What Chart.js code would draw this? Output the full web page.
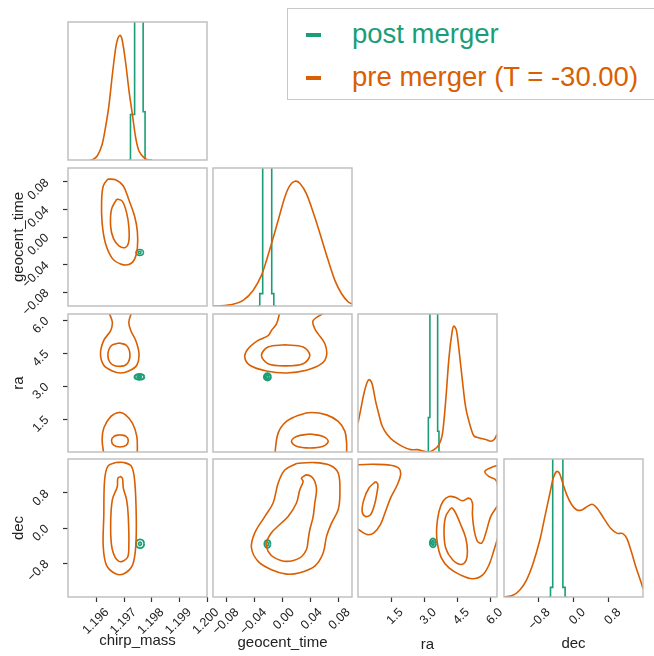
<!DOCTYPE html>
<html>
<head>
<meta charset="utf-8">
<script src="https://cdn.jsdelivr.net/npm/chart.js@4/dist/chart.umd.min.js"></script>
<style>
html, body { margin: 0; padding: 0; background: #ffffff; }
#wrap { position: relative; width: 654px; height: 656px; overflow: hidden; background: #fff; font-family: "Liberation Sans", Arial, Helvetica, sans-serif; }
#wrap canvas { position: absolute; left: 0; top: 0; }
#legend { position: absolute; left: 287px; top: 8px; width: 380px; height: 92px; border: 1px solid #c8c8c8; box-sizing: border-box; background: #fff; }
.lrow { position: absolute; left: 0; height: 30px; line-height: 30px; font-size: 27.5px; white-space: nowrap; }
.dash { position: absolute; left: 18px; width: 15px; height: 4px; }
.ltxt { position: absolute; left: 64px; top: 0; }
</style>
</head>
<body>
<div id="wrap">
  <div id="legend">
    <div class="lrow" style="top:10px"><span class="dash" style="top:14px;background:#1b9e77"></span><span class="ltxt" style="color:#1b9e77">post merger</span></div>
    <div class="lrow" style="top:53px"><span class="dash" style="top:14px;background:#d95f02"></span><span class="ltxt" style="color:#d95f02">pre merger (T = -30.00)</span></div>
  </div>
</div>
<script>
// ---------------- data ----------------
const paramNames = ['chirp_mass', 'geocent_time', 'ra', 'dec'];

const chirpRange = [1.19495, 1.2000];
const geoRange = [-0.1, 0.1];
const raRange = [0, 6.283];
const decRange = [-1.571, 1.571];

const chirpTicks = [1.196, 1.197, 1.198, 1.199, 1.200];
const chirpTickLabels = ['1.196', '1.197', '1.198', '1.199', '1.200'];
const geoTicks = [-0.08, -0.04, 0.0, 0.04, 0.08];
const geoTickLabels = ['\u22120.08', '\u22120.04', '0.00', '0.04', '0.08'];
const raTicks = [1.5, 3.0, 4.5, 6.0];
const raTickLabels = ['1.5', '3.0', '4.5', '6.0'];
const decTicks = [-0.8, 0.0, 0.8];
const decTickLabels = ['\u22120.8', '0.0', '0.8'];

// 1D marginals (height relative to panel height)
const preChirpHist = [[1.19575,0],[1.19583,0],[1.19601,0.029],[1.19619,0.113],[1.19631,0.233],[1.19644,0.400],[1.19656,0.616],[1.19668,0.808],[1.19676,0.880],[1.19684,0.904],[1.19692,0.868],[1.19704,0.712],[1.19717,0.496],[1.19729,0.329],[1.19741,0.161],[1.19753,0.065],[1.19771,0.017],[1.19786,0],[1.19800,0]];
const postChirpHist = [[1.19715,0],[1.19722,0.33],[1.19737,5],[1.19768,0.35],[1.19775,0],[1.19790,0]];
const preGeoHist = [[-0.1,0],[-0.0903,0],[-0.0711,0.012],[-0.0567,0.041],[-0.0423,0.113],[-0.0303,0.222],[-0.0231,0.330],[-0.0159,0.451],[-0.0063,0.619],[0.0033,0.788],[0.0105,0.872],[0.0177,0.904],[0.0249,0.889],[0.0345,0.812],[0.0465,0.643],[0.0562,0.487],[0.0658,0.330],[0.0754,0.186],[0.0850,0.089],[0.0946,0.029],[0.1,0.015]];
const postGeoHist = [[-0.036,0],[-0.0327,0.09],[-0.0285,5],[-0.0155,0.09],[-0.0125,0],[-0.009,0]];
const preRaHist = [[0.0,0.21],[0.112,0.298],[0.263,0.420],[0.414,0.505],[0.520,0.524],[0.640,0.493],[0.792,0.371],[0.943,0.273],[1.093,0.188],[1.320,0.127],[1.622,0.078],[2.000,0.041],[2.378,0.017],[2.680,0.017],[2.982,0.005],[3.209,0],[3.435,0.017],[3.662,0.054],[3.813,0.127],[3.964,0.371],[4.115,0.688],[4.266,0.883],[4.342,0.912],[4.447,0.883],[4.568,0.737],[4.719,0.517],[4.870,0.322],[5.097,0.176],[5.248,0.115],[5.475,0.102],[5.777,0.090],[6.003,0.078],[6.154,0.090],[6.283,0.127]];
const postRaHist = [[3.10,0],[3.18,0.25],[3.25,5],[3.60,0.15],[3.66,0],[3.74,0]];
const preDecHist = [[-1.571,0],[-1.561,0],[-1.371,0.012],[-1.218,0.049],[-1.066,0.121],[-0.914,0.243],[-0.761,0.413],[-0.647,0.583],[-0.533,0.752],[-0.457,0.862],[-0.380,0.910],[-0.319,0.898],[-0.243,0.825],[-0.152,0.740],[-0.037,0.667],[0.077,0.631],[0.191,0.631],[0.306,0.655],[0.420,0.672],[0.534,0.643],[0.686,0.570],[0.839,0.498],[0.991,0.461],[1.106,0.461],[1.205,0.425],[1.296,0.340],[1.410,0.218],[1.525,0.109],[1.571,0.06]];
const postDecHist = [[-0.56,0],[-0.52,0.07],[-0.47,5],[-0.24,0.07],[-0.19,0],[-0.15,0]];

// 2D contours: chirp_mass vs geocent_time
const preChirpGeo95 = [[1.19640,0.084],[1.19623,0.074],[1.19617,0.050],[1.19619,0.020],[1.19631,-0.009],[1.19656,-0.031],[1.19686,-0.039],[1.19716,-0.040],[1.19737,-0.032],[1.19747,-0.016],[1.19747,0.008],[1.19737,0.030],[1.19716,0.054],[1.19696,0.074],[1.19668,0.083]];
const preChirpGeo68 = [[1.19672,0.055],[1.19653,0.040],[1.19650,0.015],[1.19660,-0.002],[1.19680,-0.013],[1.19704,-0.015],[1.19716,-0.006],[1.19716,0.015],[1.19708,0.035],[1.19692,0.052]];
const postChirpGeo95 = [[1.19770,-0.0224],[1.19766,-0.0194],[1.19756,-0.0182],[1.19746,-0.0194],[1.19742,-0.0224],[1.19746,-0.0254],[1.19756,-0.0266],[1.19766,-0.0254]];
const postChirpGeo68 = [[1.19762,-0.0224],[1.19756,-0.0206],[1.19750,-0.0224],[1.19756,-0.0242]];

// chirp_mass vs ra
const preChirpRa95a = [[1.19644,6.35],[1.19656,5.91],[1.19650,5.53],[1.19625,5.08],[1.19613,4.48],[1.19625,3.95],[1.19656,3.69],[1.19686,3.60],[1.19716,3.69],[1.19745,3.95],[1.19753,4.48],[1.19741,5.08],[1.19723,5.53],[1.19716,5.91],[1.19726,6.35]];
const preChirpRa68a = [[1.19680,4.96],[1.19653,4.85],[1.19640,4.43],[1.19652,4.02],[1.19684,3.90],[1.19710,4.02],[1.19720,4.43],[1.19708,4.85]];
const preChirpRa95b = [[1.19625,-0.1],[1.19619,0.56],[1.19625,1.09],[1.19650,1.61],[1.19680,1.80],[1.19704,1.69],[1.19729,1.31],[1.19745,0.71],[1.19747,-0.1]];
const preChirpRa68b = [[1.19684,0.79],[1.19662,0.71],[1.19653,0.52],[1.19662,0.30],[1.19684,0.23],[1.19706,0.30],[1.19714,0.52],[1.19706,0.71]];
const postChirpRa95 = [[1.19773,3.42],[1.19768,3.51],[1.19755,3.55],[1.19742,3.51],[1.19737,3.42],[1.19742,3.33],[1.19755,3.29],[1.19768,3.33]];
const postChirpRa68 = [[1.19763,3.42],[1.19755,3.48],[1.19747,3.42],[1.19755,3.36]];

// chirp_mass vs dec
const preChirpDec95 = [[1.19668,1.49],[1.19640,1.41],[1.19628,1.09],[1.19625,0.26],[1.19623,-0.42],[1.19635,-0.85],[1.19668,-1.04],[1.19698,-1.04],[1.19729,-0.85],[1.19741,-0.42],[1.19743,0.26],[1.19737,1.09],[1.19725,1.41],[1.19698,1.49]];
const preChirpDec68 = [[1.19684,1.17],[1.19676,1.13],[1.19674,0.94],[1.19656,0.64],[1.19650,0.04],[1.19656,-0.49],[1.19680,-0.76],[1.19710,-0.68],[1.19716,-0.42],[1.19714,0.26],[1.19708,0.64],[1.19696,0.91],[1.19693,1.13],[1.19686,1.17]];
const postChirpDec95 = [[1.19772,-0.36],[1.19768,-0.29],[1.19757,-0.26],[1.19746,-0.29],[1.19742,-0.36],[1.19746,-0.43],[1.19757,-0.46],[1.19768,-0.43]];
const postChirpDec68 = [[1.19763,-0.36],[1.19757,-0.32],[1.19751,-0.36],[1.19757,-0.40]];

// geocent_time vs ra
const preGeoRa95a = [[-0.0039,6.35],[-0.0087,5.83],[-0.0159,5.53],[-0.0207,5.30],[-0.0351,5.08],[-0.0495,4.70],[-0.0543,4.33],[-0.0471,3.95],[-0.0231,3.69],[0.0057,3.60],[0.0345,3.72],[0.0562,4.02],[0.0634,4.40],[0.0610,4.93],[0.0513,5.38],[0.0465,5.61],[0.0441,5.98],[0.0610,6.35]];
const preGeoRa68a = [[0.0033,4.88],[-0.0207,4.78],[-0.0303,4.40],[-0.0207,4.02],[0.0033,3.92],[0.0297,4.02],[0.0393,4.40],[0.0297,4.78]];
const preGeoRa95b = [[-0.0111,-0.1],[-0.0063,0.86],[0.0057,1.39],[0.0249,1.69],[0.0417,1.80],[0.0634,1.69],[0.0802,1.39],[0.0898,0.94],[0.0922,0.41],[0.0922,-0.1]];
const preGeoRa68b = [[0.0393,0.82],[0.0201,0.71],[0.0129,0.485],[0.0201,0.26],[0.0393,0.18],[0.0585,0.26],[0.0658,0.485],[0.0585,0.71]];
const postGeoRa95 = [[-0.0166,3.42],[-0.0181,3.53],[-0.0216,3.58],[-0.0251,3.53],[-0.0266,3.42],[-0.0251,3.31],[-0.0216,3.26],[-0.0181,3.31]];
const postGeoRa68 = [[-0.0191,3.42],[-0.0216,3.50],[-0.0241,3.42],[-0.0216,3.34]];

// geocent_time vs dec
const preGeoDec95 = [[0.0201,1.47],[0.0441,1.49],[0.0682,1.43],[0.0802,1.25],[0.0826,0.79],[0.0802,0.42],[0.0706,0.11],[0.0634,-0.19],[0.0585,-0.57],[0.0465,-0.87],[0.0249,-1.02],[0.0057,-1.05],[-0.0159,-0.95],[-0.0351,-0.76],[-0.0447,-0.45],[-0.0399,-0.11],[-0.0255,0.26],[-0.0135,0.57],[-0.0063,1.02],[0.0033,1.32]];
const preGeoDec68 = [[0.0297,1.17],[0.0345,1.21],[0.0417,1.17],[0.0465,1.06],[0.0490,0.87],[0.0465,0.57],[0.0441,0.26],[0.0393,-0.04],[0.0369,-0.27],[0.0345,-0.49],[0.0249,-0.68],[0.0057,-0.76],[-0.0111,-0.68],[-0.0207,-0.53],[-0.0231,-0.34],[-0.0159,-0.11],[-0.0039,0.08],[0.0081,0.26],[0.0201,0.57],[0.0249,0.87],[0.0297,1.06],[0.0273,1.13]];
const postGeoDec95 = [[-0.0171,-0.363],[-0.0184,-0.30],[-0.0216,-0.273],[-0.0248,-0.30],[-0.0261,-0.363],[-0.0248,-0.426],[-0.0216,-0.453],[-0.0184,-0.426]];
const postGeoDec68 = [[-0.0196,-0.363],[-0.0216,-0.32],[-0.0236,-0.363],[-0.0216,-0.406]];

// ra vs dec
const preRaDec95a = [[-0.1,1.42],[0.036,1.44],[0.716,1.45],[1.471,1.43],[1.849,1.36],[1.925,1.21],[1.773,0.98],[1.471,0.68],[1.245,0.38],[1.018,0.08],[0.716,-0.11],[0.414,-0.15],[0.036,-0.04],[-0.1,0.0]];
const preRaDec68a = [[0.792,1.057],[0.489,0.906],[0.263,0.641],[0.187,0.377],[0.338,0.264],[0.565,0.301],[0.746,0.528],[0.867,0.830],[0.897,0.996]];
const preRaDec95b = [[6.34,0.528],[6.003,0.264],[5.777,-0.114],[5.596,-0.341],[5.399,-0.303],[5.248,-0.039],[5.172,0.301],[5.172,0.566],[5.021,0.679],[4.719,0.619],[4.417,0.694],[4.115,0.717],[3.858,0.619],[3.662,0.377],[3.556,0.0],[3.586,-0.341],[3.767,-0.680],[4.115,-0.907],[4.644,-1.073],[5.172,-1.156],[5.625,-1.073],[5.928,-0.832],[6.154,-0.492],[6.336,-0.190]];
const preRaDec68b = [[4.191,0.453],[3.964,0.264],[3.888,-0.076],[3.964,-0.454],[4.266,-0.718],[4.644,-0.832],[4.870,-0.756],[4.946,-0.530],[4.870,-0.227],[4.644,0.075],[4.417,0.339],[4.266,0.453]];
const preRaDec95c = [[6.38,1.434],[6.003,1.374],[5.731,1.283],[5.928,1.170],[6.230,1.094],[6.34,0.906]];
const postRaDec95 = [[3.53,-0.34],[3.49,-0.27],[3.39,-0.24],[3.29,-0.27],[3.25,-0.34],[3.29,-0.41],[3.39,-0.44],[3.49,-0.41]];
const postRaDec68 = [[3.45,-0.34],[3.39,-0.29],[3.33,-0.34],[3.39,-0.39]];

// ---------------- layout / style ----------------
const FONT = '"Liberation Sans", Arial, Helvetica, sans-serif';
const ORANGE = '#d95f02', GREEN = '#1b9e77', FRAME = '#bcbcbc';
const W = 654, H = 656;
const COL_X = [68, 213, 358, 504];
const ROW_Y = [22, 168, 314, 459];
const PW = 139, PH = 138;
const YAXIS_W = 68, XAXIS_H = 59;

const AX = {
  chirp_mass: {range: chirpRange, ticks: chirpTicks, labels: chirpTickLabels, title: 'chirp_mass', titlePad: 6},
  geocent_time: {range: geoRange, ticks: geoTicks, labels: geoTickLabels, title: 'geocent_time', titlePad: 4},
  ra: {range: raRange, ticks: raTicks, labels: raTickLabels, title: 'ra', titlePad: 2},
  dec: {range: decRange, ticks: decTicks, labels: decTickLabels, title: 'dec', titlePad: 3}
};

function pts(arr, close) {
  const p = arr.map(a => ({x: a[0], y: a[1]}));
  if (close) p.push({x: arr[0][0], y: arr[0][1]});
  return p;
}
function curve(arr, color, close, width) {
  return {data: pts(arr, close), showLine: true, borderColor: color, backgroundColor: color,
          borderWidth: width || 1.6, pointRadius: 0, tension: 0.35, fill: false};
}
function smooth(arr, color) {
  return {data: pts(arr, false), showLine: true, borderColor: color, borderWidth: 1.6, pointRadius: 0, tension: 0.3, fill: false};
}
function steps(arr, color) {
  return {data: pts(arr, false), showLine: true, borderColor: color, borderWidth: 1.6, pointRadius: 0, stepped: 'before', fill: false};
}

function scaleCfg(ax, show, isY) {
  return {
    type: 'linear', min: ax.range[0], max: ax.range[1], display: show, bounds: 'data',
    afterBuildTicks: s => { s.ticks = ax.ticks.map(v => ({value: v})); },
    afterFit: s => {
      if (isY) s.width = show ? YAXIS_W : 0; else s.height = show ? XAXIS_H : 0;
      s.paddingLeft = 0; s.paddingRight = 0; s.paddingTop = 0; s.paddingBottom = 0;
    },
    ticks: {
      autoSkip: false, minRotation: 45, maxRotation: 45,
      padding: isY ? 16 : 3, labelOffset: isY ? -1 : 10,
      color: '#222', font: {family: FONT, size: 12.5},
      callback: (v, i) => ax.labels[i]
    },
    grid: {display: true, drawOnChartArea: false, drawTicks: true, tickLength: 5, tickWidth: 1.2, tickColor: '#333', color: '#333'},
    border: {display: false},
    title: {display: true, text: ax.title, color: '#222', font: {family: FONT, size: 15},
            padding: isY ? {top: 10, bottom: 0} : {top: 0, bottom: ax.titlePad}}
  };
}
function hiddenY() {
  return {type: 'linear', min: 0, max: 1, display: false,
          afterFit: s => { s.width = 0; s.paddingLeft = 0; s.paddingRight = 0; s.paddingTop = 0; s.paddingBottom = 0; }};
}

const framePlugin = {
  id: 'frame',
  afterDraw(chart) {
    const {ctx, chartArea: a} = chart;
    ctx.save();
    ctx.strokeStyle = FRAME;
    ctx.lineWidth = 1.4;
    ctx.strokeRect(a.left, a.top, a.right - a.left, a.bottom - a.top);
    ctx.restore();
  }
};

const panels = [
  {r: 0, c: 0, x: 'chirp_mass', y: null, sets: [smooth(preChirpHist, ORANGE), steps(postChirpHist, GREEN)]},
  {r: 1, c: 0, x: 'chirp_mass', y: 'geocent_time', sets: [
    curve(preChirpGeo95, ORANGE, true), curve(preChirpGeo68, ORANGE, true),
    curve(postChirpGeo95, GREEN, true), curve(postChirpGeo68, GREEN, true)]},
  {r: 1, c: 1, x: 'geocent_time', y: null, sets: [smooth(preGeoHist, ORANGE), steps(postGeoHist, GREEN)]},
  {r: 2, c: 0, x: 'chirp_mass', y: 'ra', sets: [
    curve(preChirpRa95a, ORANGE, false), curve(preChirpRa68a, ORANGE, true),
    curve(preChirpRa95b, ORANGE, false), curve(preChirpRa68b, ORANGE, true),
    curve(postChirpRa95, GREEN, true, 2.2), curve(postChirpRa68, GREEN, true, 2.2)]},
  {r: 2, c: 1, x: 'geocent_time', y: 'ra', sets: [
    curve(preGeoRa95a, ORANGE, false), curve(preGeoRa68a, ORANGE, true),
    curve(preGeoRa95b, ORANGE, false), curve(preGeoRa68b, ORANGE, true),
    curve(postGeoRa95, GREEN, true, 2.2), curve(postGeoRa68, GREEN, true, 2.2)]},
  {r: 2, c: 2, x: 'ra', y: null, sets: [smooth(preRaHist, ORANGE), steps(postRaHist, GREEN)]},
  {r: 3, c: 0, x: 'chirp_mass', y: 'dec', sets: [
    curve(preChirpDec95, ORANGE, true), curve(preChirpDec68, ORANGE, true),
    curve(postChirpDec95, GREEN, true, 1.8), curve(postChirpDec68, GREEN, true, 1.8)]},
  {r: 3, c: 1, x: 'geocent_time', y: 'dec', sets: [
    curve(preGeoDec95, ORANGE, true), curve(preGeoDec68, ORANGE, true),
    curve(postGeoDec95, GREEN, true, 1.8), curve(postGeoDec68, GREEN, true, 1.8)]},
  {r: 3, c: 2, x: 'ra', y: 'dec', sets: [
    curve(preRaDec95a, ORANGE, false), curve(preRaDec68a, ORANGE, true),
    curve(preRaDec95b, ORANGE, false), curve(preRaDec68b, ORANGE, true),
    curve(preRaDec95c, ORANGE, false),
    curve(postRaDec95, GREEN, true, 2.0), curve(postRaDec68, GREEN, true, 2.0)]},
  {r: 3, c: 3, x: 'dec', y: null, sets: [smooth(preDecHist, ORANGE), steps(postDecHist, GREEN)]}
];

const wrap = document.getElementById('wrap');
const legendEl = document.getElementById('legend');

panels.forEach(p => {
  const cv = document.createElement('canvas');
  cv.width = W; cv.height = H;
  cv.style.width = W + 'px'; cv.style.height = H + 'px';
  wrap.insertBefore(cv, legendEl);
  const showY = p.c === 0 && p.y !== null;
  const showX = p.r === 3;
  const xs = scaleCfg(AX[p.x], showX, false);
  const ys = p.y ? scaleCfg(AX[p.y], showY, true) : hiddenY();
  new Chart(cv, {
    type: 'scatter',
    data: {datasets: p.sets},
    options: {
      responsive: false, animation: false, devicePixelRatio: 1, events: [],
      layout: {padding: {
        left: COL_X[p.c] - (showY ? YAXIS_W : 0),
        top: ROW_Y[p.r],
        right: W - COL_X[p.c] - PW,
        bottom: H - ROW_Y[p.r] - PH - (showX ? XAXIS_H : 0)
      }},
      plugins: {legend: {display: false}, tooltip: {enabled: false}},
      scales: {x: xs, y: ys}
    },
    plugins: [framePlugin]
  });
});
</script>
</body>
</html>
